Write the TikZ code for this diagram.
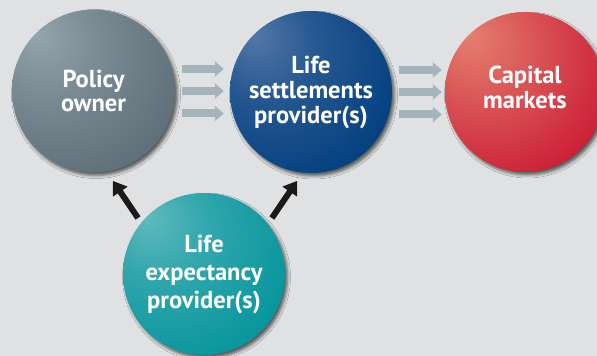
\documentclass[tikz,border=0pt]{standalone}
\usepackage{fontspec}
\setmainfont{PT Sans}
\usetikzlibrary{arrows.meta,calc,shadows.blur}
\definecolor{bg}{HTML}{E0E1E2}
\definecolor{grayarrow}{HTML}{A5B3BA}
\definecolor{blackarrow}{HTML}{1A1A1A}
\definecolor{baseA}{HTML}{5A6A74}
\definecolor{hlA}{HTML}{95A5AE}
\definecolor{baseB}{HTML}{003E7E}
\definecolor{hlB}{HTML}{5478A8}
\definecolor{baseC}{HTML}{C8102E}
\definecolor{hlC}{HTML}{E4806F}
\definecolor{baseD}{HTML}{00929A}
\definecolor{hlD}{HTML}{5FBABE}
\pgfdeclareradialshading{ballA}{\pgfqpoint{-18bp}{18bp}}{color(0bp)=(hlA); color(16bp)=(hlA!55!baseA); color(42bp)=(baseA); color(75bp)=(baseA!92!black)}
\pgfdeclareradialshading{ballB}{\pgfqpoint{-18bp}{18bp}}{color(0bp)=(hlB); color(16bp)=(hlB!45!baseB); color(40bp)=(baseB); color(75bp)=(baseB!92!black)}
\pgfdeclareradialshading{ballC}{\pgfqpoint{-18bp}{18bp}}{color(0bp)=(hlC); color(20bp)=(hlC!55!baseC); color(44bp)=(baseC); color(75bp)=(baseC!95!black)}
\pgfdeclareradialshading{ballD}{\pgfqpoint{-18bp}{18bp}}{color(0bp)=(hlD); color(16bp)=(hlD!50!baseD); color(42bp)=(baseD); color(75bp)=(baseD!92!black)}
\tikzset{
  bubble/.style={circle, inner sep=0pt, text=white, align=center,
    font=\fontsize{24.5}{25}\selectfont\bfseries,
    blur shadow={shadow xshift=2.5pt, shadow yshift=-3pt, shadow blur radius=3pt, shadow opacity=60}},
  flowarrow/.style={draw=grayarrow, line width=8pt, -{Triangle[length=9pt,width=15pt]}},
  checkarrow/.style={draw=blackarrow, line width=6pt, -{Triangle[length=13pt,width=17pt]}}
}
\begin{document}
\begin{tikzpicture}[x=1pt,y=1pt]
\useasboundingbox (0,0) rectangle (597,356);
\fill[bg] (0,0) rectangle (597,356);
\node[bubble, minimum size=163pt, shading=ballA, text depth=-4pt, font=\fontsize{24.5}{24}\selectfont\bfseries] (c1) at (93.5,265) {Policy\\owner};
\node[bubble, minimum size=162pt, shading=ballB] (c2) at (311,264) {Life\\settlements\\provider(s)};
\node[bubble, minimum size=160pt, shading=ballC, text depth=10pt] (c3) at (525,264) {Capital\\markets};
\node[bubble, minimum size=162pt, shading=ballD, font=\fontsize{24.5}{28}\selectfont\bfseries] (c4) at (204,82) {Life\\expectancy\\provider(s)};
\foreach \dy in {22,0,-22.5}{
  \draw[flowarrow] ($(c1.east)+(7,\dy)$) -- ($(c2.west |- c1.east)+(-6,\dy)$);
  \draw[flowarrow] ($(c2.east)+(7,\dy)$) -- ($(c3.west |- c2.east)+(-3,\dy)$);
}
\draw[checkarrow] ($(c4.center)+(139.7:86.5)$) -- ($(c1.center)+(-77.8:92)$);
\draw[checkarrow] ($(c4.center)+(39.5:88)$) -- ($(c2.center)+(261.1:90)$);
\end{tikzpicture}
\end{document}
